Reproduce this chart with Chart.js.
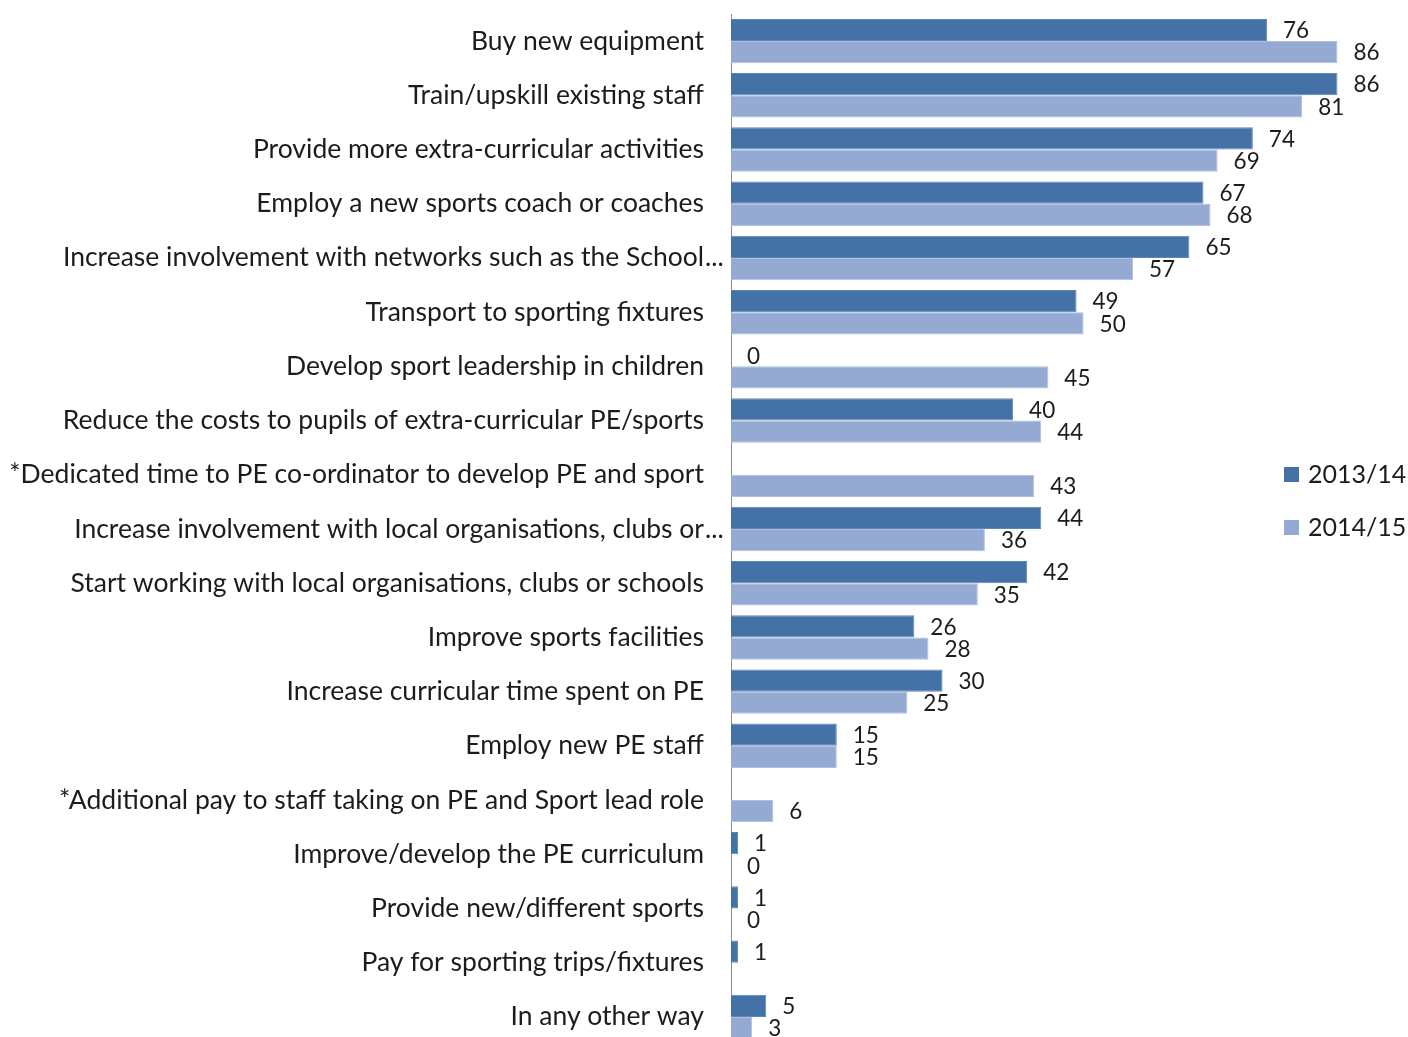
<!DOCTYPE html>
<html>
<head>
<meta charset="utf-8">
<script src="https://cdn.jsdelivr.net/npm/chart.js@4.4.1/dist/chart.umd.min.js"></script>
<style>
  html, body { margin: 0; padding: 0; background: #ffffff; overflow: hidden; }
  #wrap { width: 1408px; height: 1037px; overflow: hidden; position: relative; }
  canvas { display: block; }
</style>
</head>
<body>
<div id="wrap"><canvas id="chart" width="1408" height="1050"></canvas></div>
<script>
// How schools planned to spend the PE and sport premium (% of schools)
const categories = [
  'Buy new equipment',
  'Train/upskill existing staff',
  'Provide more extra-curricular activities',
  'Employ a new sports coach or coaches',
  'Increase involvement with networks such as the School\u2026',
  'Transport to sporting fixtures',
  'Develop sport leadership in children',
  'Reduce the costs to pupils of extra-curricular PE/sports',
  '*Dedicated time to PE co-ordinator to develop PE and sport',
  'Increase involvement with local organisations, clubs or\u2026',
  'Start working with local organisations, clubs or schools',
  'Improve sports facilities',
  'Increase curricular time spent on PE',
  'Employ new PE staff',
  '*Additional pay to staff taking on PE and Sport lead role',
  'Improve/develop the PE curriculum',
  'Provide new/different sports',
  'Pay for sporting trips/fixtures',
  'In any other way'
];
const values2013 = [76, 86, 74, 67, 65, 49, 0, 40, null, 44, 42, 26, 30, 15, null, 1, 1, 1, 5];
const values2014 = [86, 81, 69, 68, 57, 50, 45, 44, 43, 36, 35, 28, 25, 15, 6, 0, 0, null, 3];
const seriesNames = ['2013/14', '2014/15'];
const seriesColors = ['#4472A6', '#94AAD2'];
const seriesEdges = ['#5f86b6', '#aebfdf'];

const FAMILY = 'Lato, "Open Sans", sans-serif';
const CATEGORY_FONT = '26.5px ' + FAMILY;
const VALUE_FONT = '22.5px ' + FAMILY;
const LEGEND_FONT = '25px ' + FAMILY;
const TEXT_COLOR = '#1c1c1c';

// Value labels at the end of each bar (missing values get no label)
const valueLabels = {
  id: 'valueLabels',
  afterDatasetsDraw(chart) {
    const ctx = chart.ctx;
    ctx.save();
    ctx.font = VALUE_FONT;
    ctx.fillStyle = TEXT_COLOR;
    ctx.textAlign = 'left';
    ctx.textBaseline = 'middle';
    chart.data.datasets.forEach((ds, i) => {
      const meta = chart.getDatasetMeta(i);
      meta.data.forEach((bar, j) => {
        const v = ds.data[j];
        if (v === null || v === undefined) return;
        ctx.fillText(String(v), bar.x + 16, bar.y + 1);
      });
    });
    ctx.restore();
  }
};

// Category names to the left of the axis, right-aligned; a trailing ellipsis hangs past the edge
const categoryLabels = {
  id: 'categoryLabels',
  afterDraw(chart) {
    const ctx = chart.ctx;
    const yScale = chart.scales.y;
    const edge = chart.chartArea.left - 27;
    ctx.save();
    ctx.font = CATEGORY_FONT;
    ctx.fillStyle = TEXT_COLOR;
    ctx.textBaseline = 'middle';
    categories.forEach((name, j) => {
      const y = yScale.getPixelForValue(j);
      if (name.endsWith('\u2026')) {
        ctx.textAlign = 'right';
        ctx.fillText(name.slice(0, -1), edge, y);
        ctx.textAlign = 'left';
        ctx.fillText('...', edge + 1, y);
      } else {
        ctx.textAlign = 'right';
        ctx.fillText(name, edge, y);
      }
    });
    ctx.restore();
  }
};

// Legend placed over the right side of the plot
const sideLegend = {
  id: 'sideLegend',
  afterDraw(chart) {
    const ctx = chart.ctx;
    const rows = [474, 527];
    ctx.save();
    ctx.font = LEGEND_FONT;
    ctx.textAlign = 'left';
    ctx.textBaseline = 'middle';
    seriesNames.forEach((name, i) => {
      ctx.fillStyle = seriesColors[i];
      ctx.fillRect(1284, rows[i] - 7, 15, 15);
      ctx.fillStyle = TEXT_COLOR;
      ctx.fillText(name, 1308, rows[i] + 1);
    });
    ctx.restore();
  }
};

new Chart(document.getElementById('chart'), {
  type: 'bar',
  data: {
    labels: categories,
    datasets: [
      { label: seriesNames[0], data: values2013, backgroundColor: seriesColors[0],
        borderColor: seriesEdges[0], borderWidth: 1 },
      { label: seriesNames[1], data: values2014, backgroundColor: seriesColors[1],
        borderColor: seriesEdges[1], borderWidth: 1 }
    ]
  },
  options: {
    indexAxis: 'y',
    responsive: false,
    animation: false,
    devicePixelRatio: 1,
    layout: { padding: { left: 731, top: 14, right: 0, bottom: 6 } },
    datasets: { bar: { categoryPercentage: 0.82, barPercentage: 1 } },
    plugins: { legend: { display: false }, tooltip: { enabled: false } },
    scales: {
      x: { display: false, min: 0, max: 96 },
      y: {
        display: true,
        ticks: { display: false },
        grid: { display: false, drawTicks: false },
        border: { display: true, color: '#8c8c8c', width: 1 }
      }
    }
  },
  plugins: [valueLabels, categoryLabels, sideLegend]
});
</script>
</body>
</html>
